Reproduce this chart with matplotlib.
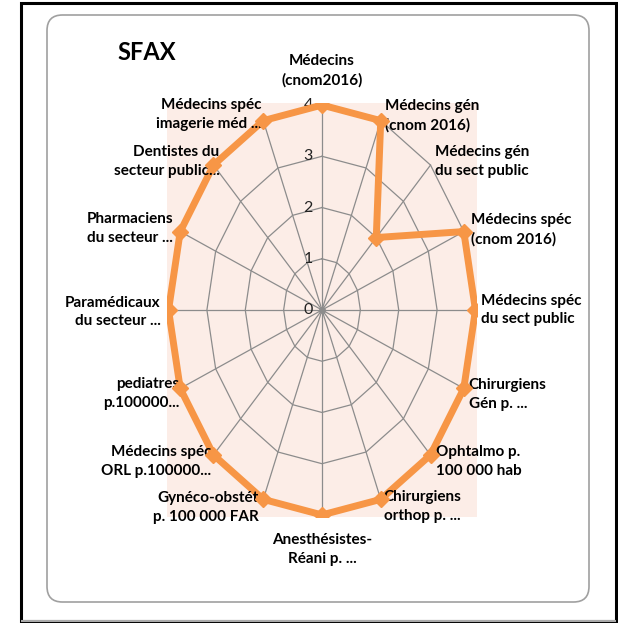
"""Radar chart SFAX: density indicators per 100 000 inhabitants (Excel-style)."""
import matplotlib
matplotlib.use("Agg")
import matplotlib.pyplot as plt
from matplotlib.patches import FancyBboxPatch, Rectangle
import numpy as np

plt.rcParams["font.family"] = ["Lato", "DejaVu Sans"]

title = "SFAX"
categories = [
    "Médecins\n(cnom2016)",
    "Médecins gén\n(cnom 2016)",
    "Médecins gén\ndu sect public",
    "Médecins spéc\n(cnom 2016)",
    "Médecins spéc\ndu sect public",
    "Chirurgiens\nGén p. ...",
    "Ophtalmo p.\n100 000 hab",
    "Chirurgiens\northop p. ...",
    "Anesthésistes-\nRéani p. ...",
    "Gynéco-obstét\np. 100 000 FAR",
    "Médecins spéc\nORL p.100000...",
    "pediatres\np.100000...",
    "Paramédicaux\ndu secteur ...",
    "Pharmaciens\ndu secteur ...",
    "Dentistes du\nsecteur public...",
    "Médecins spéc\nimagerie méd ...",
]
values = [4, 4, 2, 4, 4, 4, 4, 4, 4, 4, 4, 4, 4, 4, 4, 4]
ticks = [0, 1, 2, 3, 4]

# label placement (pixel offset from outer vertex, alignment)
label_offsets = [
    (0, 34, "center"), (4, 5, "left"), (4, 4, "left"), (7, 2, "left"),
    (6, 0, "left"), (5, -6, "left"), (5, -7, "left"), (3, -7, "left"),
    (0, -35, "center"), (-5, -8, "right"), (-2, -7, "right"), (-1, -5, "right"),
    (-8, -2, "right"), (-7, 3, "right"), (6, 4, "right"), (-2, 6, "right"),
]

orange = "#F79646"
grid_col = "#8C8C8C"
rmax = ticks[-1]

fig = plt.figure(figsize=(6.18, 6.23), dpi=100)

# outer frame and rounded chart area
fig.patches.append(Rectangle((21 / 618, 2 / 623), 595 / 618, 618 / 623,
                             transform=fig.transFigure, fill=False,
                             edgecolor="black", linewidth=2.2))
fig.patches.append(Rectangle((21 / 618, 2 / 623), 595 / 618, 0,
                             transform=fig.transFigure, fill=False,
                             edgecolor="#AAAAAA", linewidth=1.5))
fig.patches.append(FancyBboxPatch((47 / 618, 21 / 623), 542 / 618, 587 / 623,
                                  boxstyle="round,pad=0,rounding_size=0.025",
                                  transform=fig.transFigure, fill=False,
                                  edgecolor="#A0A0A0", linewidth=1.2))

ax = fig.add_axes([167 / 618, 106 / 623, 310 / 618, 414 / 623])
ax.set_facecolor("#FCEDE7")
for s in ax.spines.values():
    s.set_visible(False)
ax.set_xticks([])
ax.set_yticks([])
lim = rmax * 1.01
ax.set_xlim(-lim, lim)
ax.set_ylim(-lim, lim)

n = len(categories)
theta = np.arange(n) * 2 * np.pi / n
sx, cy = np.sin(theta), np.cos(theta)

# web grid
for r in ticks[1:]:
    ax.plot(np.append(r * sx, r * sx[0]), np.append(r * cy, r * cy[0]),
            color=grid_col, lw=0.9, zorder=1)
for i in range(n):
    ax.plot([0, rmax * sx[i]], [0, rmax * cy[i]], color=grid_col, lw=0.9, zorder=1)
ax.plot(0, 0, "o", color=grid_col, ms=4, zorder=1)

# tick labels
for t in ticks:
    ax.annotate(str(t), (0, t), xytext=(-9, 0), textcoords="offset pixels",
                ha="right", va="center", fontsize=11.5, color="#222222", zorder=2)

# series
v = np.array(values, dtype=float)
ax.plot(np.append(v * sx, v[0] * sx[0]), np.append(v * cy, v[0] * cy[0]),
        color=orange, lw=5, zorder=3, solid_joinstyle="miter")
ax.plot(v * sx, v * cy, "D", color=orange, ms=8.5, zorder=4)

# category labels
for i, lab in enumerate(categories):
    dx, dy, ha = label_offsets[i]
    ax.annotate(lab, (rmax * sx[i], rmax * cy[i]), xytext=(dx, dy),
                textcoords="offset pixels", ha=ha, va="center",
                fontsize=11, fontweight="bold", color="black",
                linespacing=1.45, annotation_clip=False)

fig.text(147 / 618, 1 - 52 / 623, title, ha="center", va="center",
         fontsize=17, fontweight="bold")

fig.savefig("out.png", dpi=100)
